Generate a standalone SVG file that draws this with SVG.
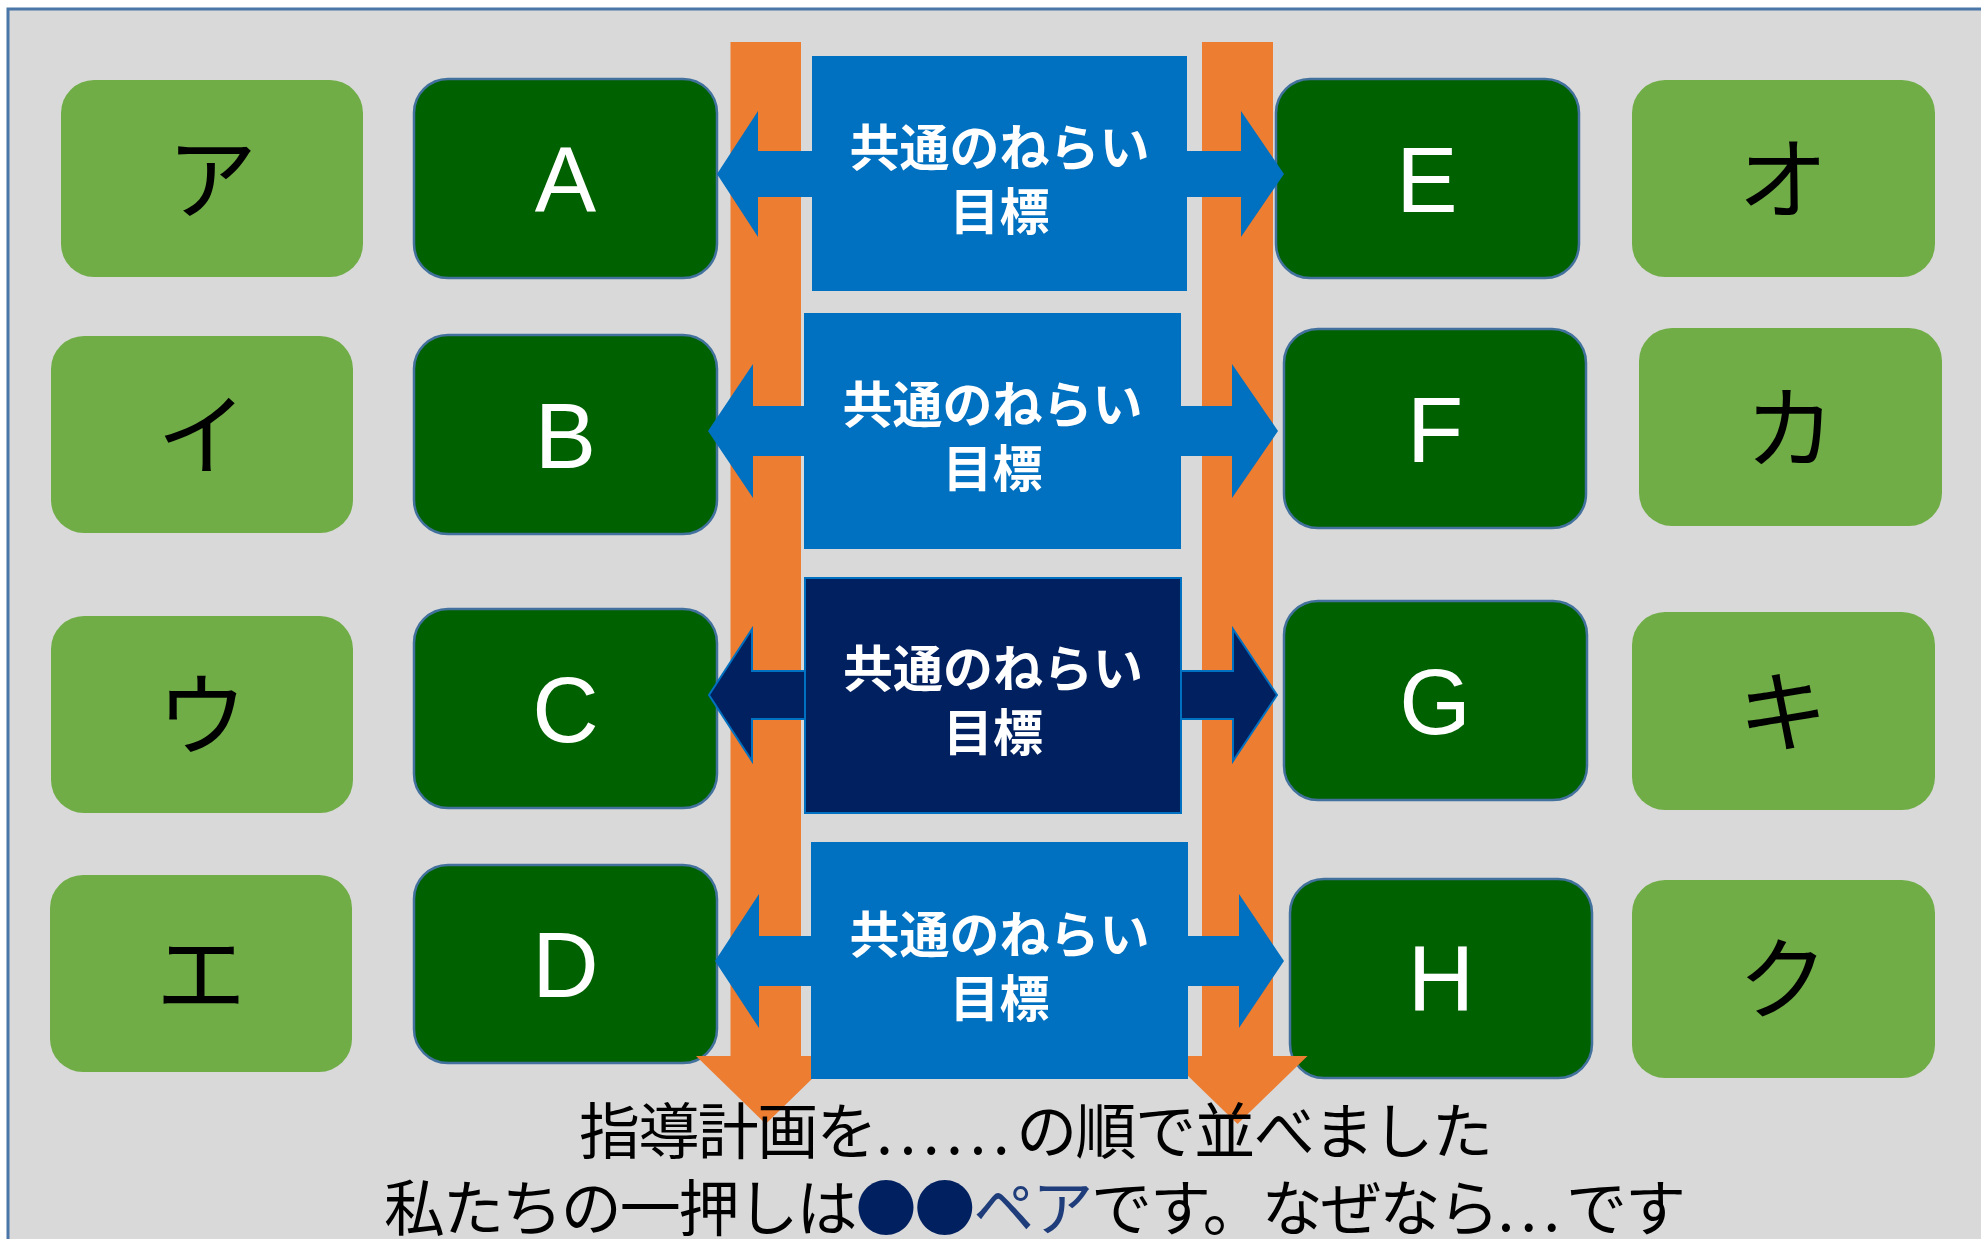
<svg xmlns="http://www.w3.org/2000/svg" width="1981" height="1239" viewBox="0 0 1981 1239">
<style>
.bg{fill:#d9d9d9;stroke:#4a76a8;stroke-width:3}
.kana{fill:#70ad47}
.kt{font-family:"Noto Sans CJK JP","Noto Sans CJK SC",sans-serif;font-size:90px;fill:#000;text-anchor:middle}
.dk{fill:#006100;stroke:#41719c;stroke-width:2.5}
.lt{font-family:"Liberation Sans",Arial,sans-serif;font-size:92px;fill:#fff;text-anchor:middle}
.blue{fill:#0070c0}
.navy{fill:#002060;stroke:#0070c0;stroke-width:2}
.bt{font-family:"Noto Sans CJK JP","Noto Sans CJK SC",sans-serif;font-size:50px;font-weight:bold;fill:#fff;text-anchor:middle}
.or{fill:#ed7d31}
.cap{font-family:"Noto Sans CJK JP","Noto Sans CJK SC",sans-serif;font-size:61px;fill:#000;text-anchor:middle}
.dots{letter-spacing:8px}
</style>
<rect x="0" y="0" width="1981" height="1239" fill="#ffffff"/>
<rect class="bg" x="8" y="9" width="2000" height="1300"/>

<g id="node-a-kana"><rect class="kana" x="61" y="80" width="302" height="197" rx="33" ry="33"/><text class="kt" x="212" y="212">ア</text></g>
<g id="node-i-kana"><rect class="kana" x="51" y="336" width="302" height="197" rx="33" ry="33"/><text class="kt" x="202" y="468">イ</text></g>
<g id="node-u-kana"><rect class="kana" x="51" y="616" width="302" height="197" rx="33" ry="33"/><text class="kt" x="202" y="748">ウ</text></g>
<g id="node-e-kana"><rect class="kana" x="50" y="875" width="302" height="197" rx="33" ry="33"/><text class="kt" x="201" y="1007">エ</text></g>
<g id="node-o-kana"><rect class="kana" x="1632" y="80" width="303" height="197" rx="33" ry="33"/><text class="kt" x="1783" y="212">オ</text></g>
<g id="node-ka-kana"><rect class="kana" x="1639" y="328" width="303" height="198" rx="33" ry="33"/><text class="kt" x="1790" y="461">カ</text></g>
<g id="node-ki-kana"><rect class="kana" x="1632" y="612" width="303" height="198" rx="33" ry="33"/><text class="kt" x="1783" y="745">キ</text></g>
<g id="node-ku-kana"><rect class="kana" x="1632" y="880" width="303" height="198" rx="33" ry="33"/><text class="kt" x="1783" y="1012">ク</text></g>

<g id="node-A"><rect class="dk" x="414" y="79" width="303" height="199" rx="34" ry="34"/><text class="lt" x="565.5" y="212">A</text></g>
<g id="node-B"><rect class="dk" x="414" y="335" width="303" height="199" rx="34" ry="34"/><text class="lt" x="565.5" y="468">B</text></g>
<g id="node-C"><rect class="dk" x="414" y="609" width="303" height="199" rx="34" ry="34"/><text class="lt" x="565.5" y="742">C</text></g>
<g id="node-D"><rect class="dk" x="414" y="865" width="303" height="198" rx="34" ry="34"/><text class="lt" x="565.5" y="997">D</text></g>
<g id="node-E"><rect class="dk" x="1276" y="79" width="303" height="199" rx="34" ry="34"/><text class="lt" x="1427" y="212">E</text></g>
<g id="node-F"><rect class="dk" x="1284" y="329" width="302" height="199" rx="34" ry="34"/><text class="lt" x="1435" y="462">F</text></g>
<g id="node-G"><rect class="dk" x="1284" y="601" width="303" height="199" rx="34" ry="34"/><text class="lt" x="1435" y="734">G</text></g>
<g id="node-H"><rect class="dk" x="1290" y="879" width="302" height="199" rx="34" ry="34"/><text class="lt" x="1441" y="1011">H</text></g>

<g id="connectors">
<path class="or" d="M730.5,42 L801,42 L801,1056 L835.5,1056 L765.7,1124 L696,1056 L730.5,1056 Z"/>
<path class="or" d="M1202,42 L1273,42 L1273,1056 L1307.5,1056 L1237.5,1124 L1167.5,1056 L1202,1056 Z"/>
<path class="blue" d="M717,174 L758,111 L758,151 L1241,151 L1241,111 L1284,174 L1241,237 L1241,197 L758,197 L758,237 Z"/>
<path class="blue" d="M708,431 L753,364 L753,406 L1232,406 L1232,364 L1278,431 L1232,498 L1232,456 L753,456 L753,498 Z"/>
<path class="navy" d="M709,695 L752,629 L752,671 L1233,671 L1233,629 L1277,695 L1233,761 L1233,719 L752,719 L752,761 Z"/>
<path class="blue" d="M715,961 L759,894 L759,936 L1239,936 L1239,894 L1284,961 L1239,1028 L1239,986 L759,986 L759,1028 Z"/>
</g>

<g id="goal-1"><rect class="blue" x="812" y="56" width="375" height="235"/><text class="bt" x="999.5" y="166">共通のねらい</text><text class="bt" x="999.5" y="230">目標</text></g>
<g id="goal-2"><rect class="blue" x="804" y="313" width="377" height="236"/><text class="bt" x="992.5" y="423">共通のねらい</text><text class="bt" x="992.5" y="487">目標</text></g>
<g id="goal-3"><rect class="navy" x="805" y="578" width="376" height="235"/><text class="bt" x="993" y="687">共通のねらい</text><text class="bt" x="993" y="751">目標</text></g>
<g id="goal-4"><rect class="blue" x="811" y="842" width="377" height="237"/><text class="bt" x="999.5" y="953">共通のねらい</text><text class="bt" x="999.5" y="1017">目標</text></g>

<g id="caption">
<text class="cap" x="1036" y="1154" textLength="914" lengthAdjust="spacing">指導計画を<tspan class="dots">......</tspan>の順で並べました</text>
<text class="cap" x="1035" y="1231" textLength="1302" lengthAdjust="spacing">私たちの一押しは<tspan fill="#002060">●●</tspan><tspan fill="#1f3d7a">ペア</tspan>です。なぜなら<tspan class="dots">...</tspan>です</text>
</g>
</svg>
